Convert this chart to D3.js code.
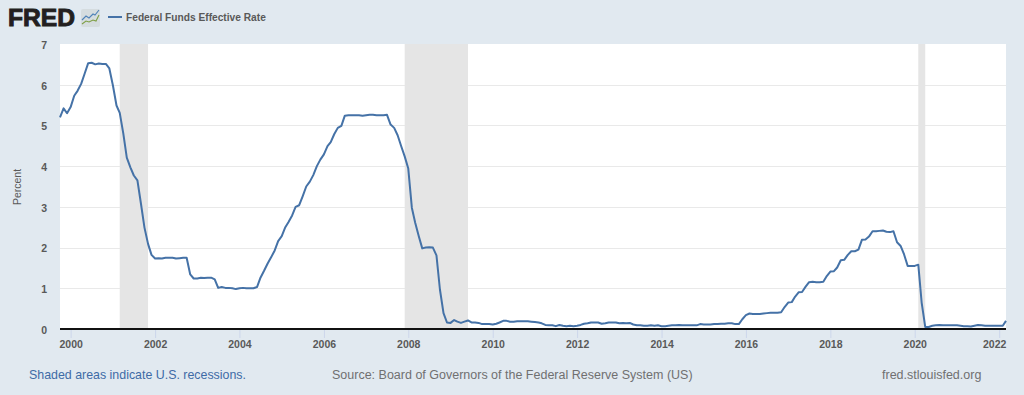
<!DOCTYPE html>
<html>
<head>
<meta charset="utf-8">
<title>Federal Funds Effective Rate</title>
<script src="https://cdn.jsdelivr.net/npm/d3@7"></script>
<style>
  html, body { margin: 0; padding: 0; background: #e1e9f0; overflow: hidden; }
  svg { display: block; font-family: "Liberation Sans", Arial, sans-serif; }
</style>
</head>
<body>
<div id="chart"></div>
<script>
const seriesName = "Federal Funds Effective Rate";
const firstMonth = "1999-10-01";

// Monthly values, Oct 1999 to Mar 2022
const rates = [
  5.20, 5.42, 5.30,
  5.45, 5.73, 5.85, 6.02, 6.27, 6.53, 6.54, 6.50, 6.52, 6.51, 6.51, 6.40,
  5.98, 5.49, 5.31, 4.80, 4.21, 3.97, 3.77, 3.65, 3.07, 2.49, 2.09, 1.82,
  1.73, 1.74, 1.73, 1.75, 1.75, 1.75, 1.73, 1.74, 1.75, 1.75, 1.34, 1.24,
  1.24, 1.26, 1.25, 1.26, 1.26, 1.22, 1.01, 1.03, 1.01, 1.01, 1.00, 0.98,
  1.00, 1.01, 1.00, 1.00, 1.00, 1.03, 1.26, 1.43, 1.61, 1.76, 1.93, 2.16,
  2.28, 2.50, 2.63, 2.79, 3.00, 3.04, 3.26, 3.50, 3.62, 3.78, 4.00, 4.16,
  4.29, 4.49, 4.59, 4.79, 4.94, 4.99, 5.24, 5.25, 5.25, 5.25, 5.25, 5.24,
  5.25, 5.26, 5.26, 5.25, 5.25, 5.25, 5.26, 5.02, 4.94, 4.76, 4.49, 4.24,
  3.94, 2.98, 2.61, 2.28, 1.98, 2.00, 2.01, 2.00, 1.81, 0.97, 0.39, 0.16,
  0.15, 0.22, 0.18, 0.15, 0.18, 0.21, 0.16, 0.16, 0.15, 0.12, 0.12, 0.12,
  0.11, 0.13, 0.16, 0.20, 0.20, 0.18, 0.18, 0.19, 0.19, 0.19, 0.19, 0.18,
  0.17, 0.16, 0.14, 0.10, 0.09, 0.09, 0.07, 0.10, 0.08, 0.07, 0.08, 0.07,
  0.08, 0.10, 0.13, 0.14, 0.16, 0.16, 0.16, 0.13, 0.14, 0.16, 0.16, 0.16,
  0.14, 0.15, 0.14, 0.15, 0.11, 0.09, 0.09, 0.08, 0.08, 0.09, 0.08, 0.09,
  0.07, 0.07, 0.08, 0.09, 0.09, 0.10, 0.09, 0.09, 0.09, 0.09, 0.09, 0.12,
  0.11, 0.11, 0.11, 0.12, 0.12, 0.13, 0.13, 0.14, 0.14, 0.12, 0.12, 0.24,
  0.34, 0.38, 0.37, 0.37, 0.37, 0.38, 0.39, 0.40, 0.40, 0.40, 0.41, 0.54,
  0.65, 0.66, 0.79, 0.90, 0.91, 1.04, 1.15, 1.16, 1.15, 1.15, 1.16, 1.30,
  1.41, 1.42, 1.51, 1.69, 1.70, 1.82, 1.91, 1.91, 1.95, 2.19, 2.20, 2.27,
  2.40, 2.40, 2.41, 2.42, 2.39, 2.38, 2.40, 2.13, 2.04, 1.83, 1.55, 1.55,
  1.55, 1.58, 0.65, 0.05, 0.05, 0.08, 0.09, 0.10, 0.09, 0.09, 0.09, 0.09,
  0.09, 0.08, 0.07, 0.07, 0.06, 0.08, 0.10, 0.09, 0.08, 0.08, 0.08, 0.08,
  0.08, 0.08, 0.20
];

const recessionStarts = ["2001-03-01", "2007-12-01", "2020-02-01"];
const recessionEnds = ["2001-11-01", "2009-06-01", "2020-04-01"];

const xTickYears = [2000, 2002, 2004, 2006, 2008, 2010, 2012, 2014, 2016, 2018, 2020, 2022];
const yTicks = [0, 1, 2, 3, 4, 5, 6, 7];

const width = 1024, height = 395;
const plot = { left: 60, right: 1006, top: 44, bottom: 329 };
const blue = "#4572a7";
const grey = "#595959";

const parseDate = d3.utcParse("%Y-%m-%d");
const start = parseDate(firstMonth);
const months = rates.map((d, i) => d3.utcMonth.offset(start, i));

const x = d3.scaleUtc()
  .domain([start, months[months.length - 1]])
  .range([plot.left, plot.right]);
const y = d3.scaleLinear().domain([0, 7]).range([plot.bottom, plot.top]);

const svg = d3.select("#chart").append("svg")
  .attr("width", width)
  .attr("height", height)
  .attr("viewBox", "0 0 " + width + " " + height);

// Plot background
svg.append("rect")
  .attr("x", plot.left).attr("y", plot.top)
  .attr("width", plot.right - plot.left)
  .attr("height", plot.bottom - plot.top)
  .attr("fill", "#fff");

// Grid lines, under the recession bands
svg.append("g")
  .selectAll("line")
  .data(yTicks.filter(d => d > 0 && d < 7))
  .enter().append("line")
  .attr("x1", plot.left).attr("x2", plot.right)
  .attr("y1", d => Math.round(y(d)) + 0.5).attr("y2", d => Math.round(y(d)) + 0.5)
  .attr("stroke", "#e9e9e9")
  .attr("stroke-width", 1);

// Recessions
svg.append("g")
  .selectAll("rect")
  .data(recessionStarts)
  .enter().append("rect")
  .attr("x", d => x(parseDate(d)))
  .attr("width", (d, i) => x(parseDate(recessionEnds[i])) - x(parseDate(d)))
  .attr("y", plot.top)
  .attr("height", plot.bottom - plot.top)
  .attr("fill", "#e5e5e5");

// X axis
const xAxis = d3.axisBottom(x)
  .tickValues(xTickYears.map(d => new Date(Date.UTC(d, 0, 1))))
  .tickFormat(d3.utcFormat("%Y"))
  .tickSize(9)
  .tickPadding(3);

const xGroup = svg.append("g")
  .attr("transform", "translate(0," + plot.bottom + ")")
  .call(xAxis);
xGroup.select(".domain").remove();
xGroup.selectAll("line").attr("stroke", "#ccd6eb");
xGroup.selectAll("text")
  .attr("fill", grey)
  .attr("font-size", 10.5)
  .attr("font-weight", "bold")
  .attr("font-family", "Liberation Sans, Arial, sans-serif");
// last label is pulled in so it stays inside the plot edge
xGroup.selectAll("text")
  .filter(d => d.getUTCFullYear() === 2022)
  .attr("dx", -5);

// Y axis
const yAxis = d3.axisLeft(y)
  .tickValues(yTicks)
  .tickFormat(d3.format("d"))
  .tickSize(0)
  .tickPadding(13);

const yGroup = svg.append("g")
  .attr("transform", "translate(" + plot.left + ",1)")
  .call(yAxis);
yGroup.select(".domain").remove();
yGroup.selectAll("text")
  .attr("fill", grey)
  .attr("font-size", 10.5)
  .attr("font-family", "Liberation Sans, Arial, sans-serif")
  .attr("font-weight", "bold");

svg.append("text")
  .attr("transform", "translate(21,187) rotate(-90)")
  .attr("text-anchor", "middle")
  .attr("font-size", 10.5)
  .attr("fill", grey)
  .text("Percent");

// Baseline
svg.append("line")
  .attr("x1", plot.left).attr("x2", plot.right)
  .attr("y1", plot.bottom).attr("y2", plot.bottom)
  .attr("stroke", "#111")
  .attr("stroke-width", 2);

// Series
const line = d3.line()
  .x((d, i) => x(months[i]))
  .y(d => y(d));

svg.append("path")
  .datum(rates)
  .attr("d", line)
  .attr("fill", "none")
  .attr("stroke", blue)
  .attr("stroke-width", 2)
  .attr("stroke-linejoin", "round");

// FRED logo
svg.append("text")
  .attr("x", 8).attr("y", 26)
  .attr("font-size", 23)
  .attr("font-weight", "bold")
  .attr("fill", "#231f20")
  .attr("stroke", "#231f20")
  .attr("stroke-width", 0.9)
  .attr("textLength", 67)
  .attr("lengthAdjust", "spacingAndGlyphs")
  .text("FRED");

const logo = svg.append("g").attr("transform", "translate(81,9)");
logo.append("rect")
  .attr("width", 19).attr("height", 18).attr("rx", 2)
  .attr("fill", "#d5dcdf");
logo.append("path")
  .attr("d", "M1,11 L5,7 L8,9 L12,5 L14,6 L18,1")
  .attr("fill", "none").attr("stroke", "#4f82b8").attr("stroke-width", 1.1);
logo.append("path")
  .attr("d", "M1,15 L5,12 L8,13 L12,11 L15,12 L18,6")
  .attr("fill", "none").attr("stroke", "#7f9f45").attr("stroke-width", 1.1);

// Legend
svg.append("line")
  .attr("x1", 108).attr("x2", 122)
  .attr("y1", 17).attr("y2", 17)
  .attr("stroke", blue)
  .attr("stroke-width", 2);
svg.append("text")
  .attr("x", 126).attr("y", 21)
  .attr("font-size", 10.2)
  .attr("font-weight", "bold")
  .attr("fill", grey)
  .text(seriesName);

// Footer
svg.append("text")
  .attr("x", 29).attr("y", 379)
  .attr("font-size", 12.4)
  .attr("fill", "#3e6ba6")
  .text("Shaded areas indicate U.S. recessions.");
svg.append("text")
  .attr("x", 332).attr("y", 379)
  .attr("font-size", 12.5)
  .attr("fill", "#707070")
  .text("Source: Board of Governors of the Federal Reserve System (US)");
svg.append("text")
  .attr("x", 882).attr("y", 379)
  .attr("font-size", 12.5)
  .attr("fill", "#707070")
  .text("fred.stlouisfed.org");
</script>
</body>
</html>
